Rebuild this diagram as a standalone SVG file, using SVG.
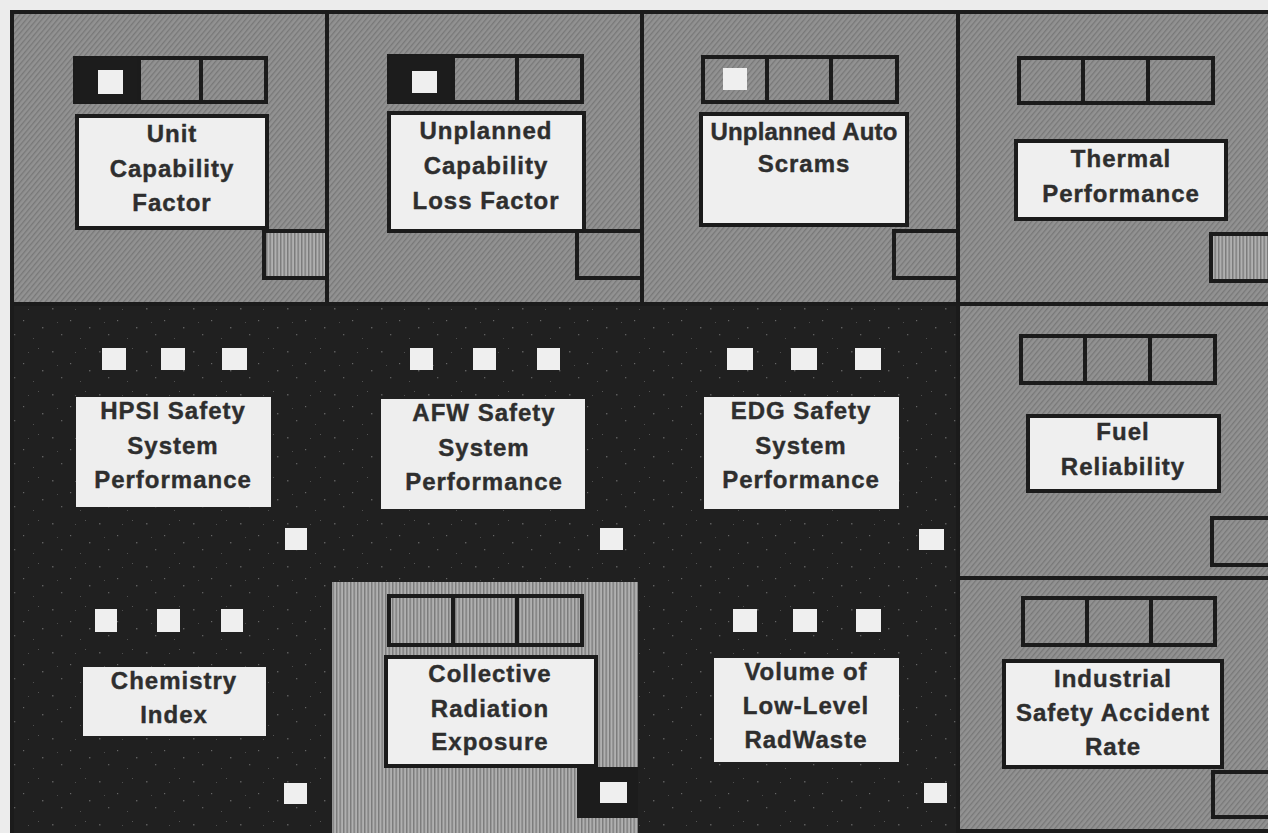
<svg xmlns="http://www.w3.org/2000/svg" width="1268" height="833" viewBox="0 0 1268 833">
<defs>
<pattern id="diag" patternUnits="userSpaceOnUse" width="4" height="4" patternTransform="rotate(40)">
<rect width="4" height="4" fill="#929292"/>
<rect width="1.3" height="4" fill="#787878"/>
</pattern>
<pattern id="vert" patternUnits="userSpaceOnUse" width="3.5" height="4">
<rect width="3.5" height="4" fill="#b0b0b0"/>
<rect width="1.4" height="4" fill="#7a7a7a"/>
</pattern>
<pattern id="speck" patternUnits="userSpaceOnUse" width="47" height="43">
<rect width="47" height="43" fill="#202020"/>
<rect x="5" y="7" width="1.5" height="1.5" fill="#5a5a5a"/>
<rect x="23" y="19" width="1.2" height="1.2" fill="#666"/>
<rect x="38" y="4" width="1" height="1" fill="#555"/>
<rect x="14" y="33" width="1.3" height="1.3" fill="#5e5e5e"/>
<rect x="33" y="37" width="1" height="1" fill="#505050"/>
<rect x="42" y="26" width="1.4" height="1.4" fill="#606060"/>
<rect x="10" y="21" width="1" height="1" fill="#4c4c4c"/>
<rect x="28" y="8" width="1" height="1" fill="#4e4e4e"/>
</pattern>
</defs>
<style>
.h{fill:url(#diag)}
.v{fill:url(#vert)}
.dk{fill:#1c1c1c}
.ln{stroke:#1b1b1b;stroke-width:4;fill:none}
.box{fill:#efefef;stroke:#1b1b1b;stroke-width:4}
.wb{fill:#eeeeee}
.sq{fill:#efefef}
.bx{stroke:#1b1b1b;stroke-width:4}
text{font-family:"Liberation Sans",Arial,Helvetica,sans-serif;font-weight:bold;font-size:24px;fill:#2e2e2e;stroke:#2e2e2e;stroke-width:0.4;text-anchor:middle;letter-spacing:1px}
</style>
<rect width="1268" height="833" fill="#ececec"/>
<g id="backgrounds">
<rect x="12" y="12" width="1256" height="292" class="h"/>
<rect x="958" y="304" width="310" height="529" class="h"/>
<rect x="12" y="304" width="946" height="529" fill="url(#speck)"/>
</g>
<g id="frame">
<line x1="10" y1="12" x2="1268" y2="12" class="ln"/>
<line x1="12" y1="10" x2="12" y2="833" class="ln"/>
<line x1="327" y1="12" x2="327" y2="304" class="ln"/>
<line x1="642" y1="12" x2="642" y2="304" class="ln"/>
<line x1="958" y1="12" x2="958" y2="833" class="ln"/>
<line x1="10" y1="304" x2="1268" y2="304" class="ln" stroke-width="5"/>
<line x1="958" y1="578" x2="1268" y2="578" class="ln"/>
<line x1="958" y1="831" x2="1268" y2="831" class="ln"/>
</g>
<g id="unit-capability-factor">
<rect x="75" y="58" width="191" height="44" class="h bx"/>
<rect x="75" y="58" width="64" height="44" class="dk"/>
<rect x="98" y="70" width="25" height="24" class="sq"/>
<line x1="139" y1="58" x2="139" y2="102" class="ln"/>
<line x1="201" y1="58" x2="201" y2="102" class="ln"/>
<rect x="77" y="116" width="190" height="112" class="box"/>
<text x="172" y="142">Unit</text>
<text x="172" y="177">Capability</text>
<text x="172" y="211">Factor</text>
<rect x="264" y="231" width="63" height="47" class="v bx"/>
</g>
<g id="unplanned-capability-loss-factor">
<rect x="389" y="56" width="193" height="46" class="h bx"/>
<rect x="389" y="56" width="64" height="46" class="dk"/>
<rect x="412" y="71" width="25" height="22" class="sq"/>
<line x1="453" y1="56" x2="453" y2="102" class="ln"/>
<line x1="517" y1="56" x2="517" y2="102" class="ln"/>
<rect x="389" y="113" width="195" height="118" class="box"/>
<text x="486" y="139">Unplanned</text>
<text x="486" y="174">Capability</text>
<text x="486" y="209">Loss Factor</text>
<rect x="577" y="231" width="65" height="47" class="h bx"/>
</g>
<g id="unplanned-auto-scrams">
<rect x="703" y="57" width="194" height="45" class="h bx"/>
<rect x="723" y="68" width="24" height="22" class="sq"/>
<line x1="767" y1="57" x2="767" y2="102" class="ln"/>
<line x1="831" y1="57" x2="831" y2="102" class="ln"/>
<rect x="701" y="114" width="206" height="111" class="box"/>
<text x="804" y="140" style="letter-spacing:0.2px">Unplanned Auto</text>
<text x="804" y="172">Scrams</text>
<rect x="894" y="231" width="64" height="47" class="h bx"/>
</g>
<g id="thermal-performance">
<rect x="1019" y="58" width="194" height="45" class="h bx"/>
<line x1="1083" y1="58" x2="1083" y2="103" class="ln"/>
<line x1="1148" y1="58" x2="1148" y2="103" class="ln"/>
<rect x="1016" y="141" width="210" height="78" class="box"/>
<text x="1121" y="167">Thermal</text>
<text x="1121" y="202">Performance</text>
<rect x="1211" y="234" width="60" height="47" class="v bx"/>
</g>
<g id="fuel-reliability">
<rect x="1021" y="336" width="194" height="47" class="h bx"/>
<line x1="1085" y1="336" x2="1085" y2="383" class="ln"/>
<line x1="1150" y1="336" x2="1150" y2="383" class="ln"/>
<rect x="1028" y="416" width="191" height="75" class="box"/>
<text x="1123" y="440">Fuel</text>
<text x="1123" y="475">Reliability</text>
<rect x="1212" y="518" width="60" height="47" class="h bx"/>
</g>
<g id="industrial-safety-accident-rate">
<rect x="1023" y="598" width="192" height="47" class="h bx"/>
<line x1="1087" y1="598" x2="1087" y2="645" class="ln"/>
<line x1="1151" y1="598" x2="1151" y2="645" class="ln"/>
<rect x="1004" y="661" width="218" height="106" class="box"/>
<text x="1113" y="687">Industrial</text>
<text x="1113" y="721">Safety Accident</text>
<text x="1113" y="755">Rate</text>
<rect x="1213" y="772" width="60" height="45" class="h bx"/>
</g>
<g id="hpsi-safety-system-performance">
<rect x="102" y="348" width="24" height="22" class="sq"/>
<rect x="161" y="348" width="24" height="22" class="sq"/>
<rect x="222" y="348" width="25" height="22" class="sq"/>
<rect x="76" y="397" width="195" height="110" class="wb"/>
<text x="173" y="419">HPSI Safety</text>
<text x="173" y="454">System</text>
<text x="173" y="488">Performance</text>
<rect x="285" y="528" width="22" height="22" class="sq"/>
</g>
<g id="afw-safety-system-performance">
<rect x="410" y="348" width="23" height="22" class="sq"/>
<rect x="473" y="348" width="23" height="22" class="sq"/>
<rect x="537" y="348" width="23" height="22" class="sq"/>
<rect x="381" y="399" width="204" height="110" class="wb"/>
<text x="484" y="421">AFW Safety</text>
<text x="484" y="456">System</text>
<text x="484" y="490">Performance</text>
<rect x="600" y="528" width="23" height="22" class="sq"/>
</g>
<g id="edg-safety-system-performance">
<rect x="727" y="348" width="26" height="22" class="sq"/>
<rect x="791" y="348" width="26" height="22" class="sq"/>
<rect x="855" y="348" width="26" height="22" class="sq"/>
<rect x="704" y="397" width="195" height="112" class="wb"/>
<text x="801" y="419">EDG Safety</text>
<text x="801" y="454">System</text>
<text x="801" y="488">Performance</text>
<rect x="919" y="529" width="25" height="21" class="sq"/>
</g>
<g id="chemistry-index">
<rect x="95" y="609" width="22" height="23" class="sq"/>
<rect x="157" y="609" width="23" height="23" class="sq"/>
<rect x="221" y="609" width="22" height="23" class="sq"/>
<rect x="83" y="667" width="183" height="69" class="wb"/>
<text x="174" y="689">Chemistry</text>
<text x="174" y="723">Index</text>
<rect x="284" y="783" width="23" height="21" class="sq"/>
</g>
<g id="collective-radiation-exposure">
<rect x="332" y="582" width="306" height="251" class="v"/>
<rect x="389" y="596" width="193" height="49" class="v bx"/>
<line x1="453" y1="596" x2="453" y2="645" class="ln"/>
<line x1="517" y1="596" x2="517" y2="645" class="ln"/>
<rect x="386" y="657" width="210" height="109" class="box"/>
<text x="490" y="682">Collective</text>
<text x="490" y="717">Radiation</text>
<text x="490" y="750">Exposure</text>
<rect x="577" y="767" width="61" height="51" class="dk"/>
<rect x="600" y="782" width="27" height="21" class="sq"/>
</g>
<g id="volume-of-low-level-radwaste">
<rect x="733" y="609" width="24" height="23" class="sq"/>
<rect x="793" y="609" width="24" height="23" class="sq"/>
<rect x="856" y="609" width="25" height="23" class="sq"/>
<rect x="714" y="658" width="185" height="104" class="wb"/>
<text x="806" y="680">Volume of</text>
<text x="806" y="714">Low-Level</text>
<text x="806" y="748">RadWaste</text>
<rect x="924" y="783" width="23" height="20" class="sq"/>
</g>
</svg>
